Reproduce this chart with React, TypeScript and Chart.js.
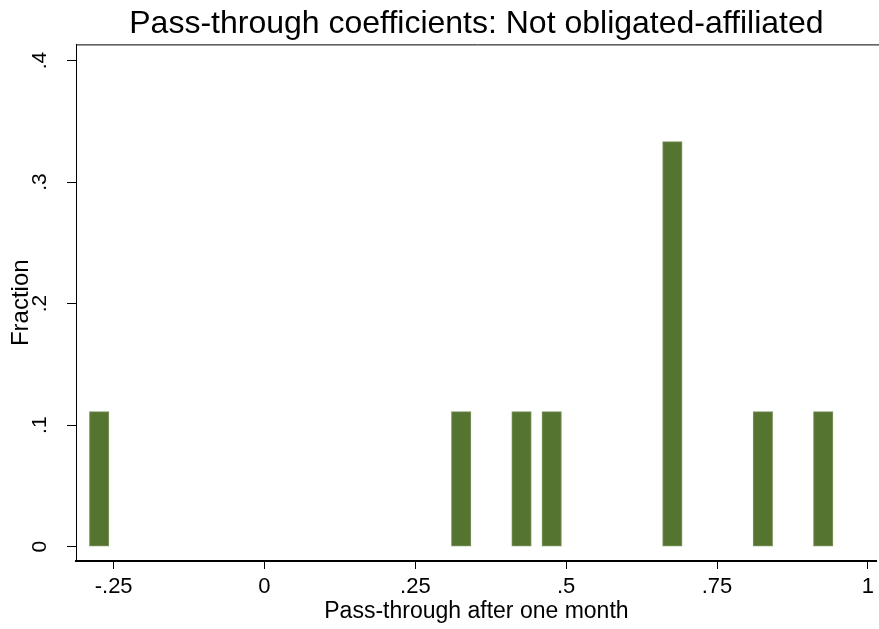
import React, { useEffect, useRef } from "react";
import { Chart, registerables } from "chart.js";

Chart.register(...registerables);

// ---- data ----
const binCenters = [-0.274, 0.326, 0.426, 0.476, 0.676, 0.826, 0.926];
const fractions = [0.1111, 0.1111, 0.1111, 0.1111, 0.3333, 0.1111, 0.1111];
const xTickValues = [-0.25, 0, 0.25, 0.5, 0.75, 1];
const xTickLabels = ["-.25", "0", ".25", ".5", ".75", "1"];
const yTickValues = [0, 0.1, 0.2, 0.3, 0.4];
const yTickLabels = ["0", ".1", ".2", ".3", ".4"];
const titleText = "Pass-through coefficients: Not obligated-affiliated";
const xAxisTitle = "Pass-through after one month";
const yAxisTitle = "Fraction";

const FONT = "'Liberation Sans', Arial, Helvetica, sans-serif";

const topBorder = {
  id: "topBorder",
  afterDraw(chart: any) {
    const { ctx, chartArea } = chart;
    ctx.save();
    ctx.strokeStyle = "#000";
    ctx.lineWidth = 1;
    ctx.beginPath();
    ctx.moveTo(chartArea.left, chartArea.top + 0.5);
    ctx.lineTo(chart.width, chartArea.top + 0.5);
    ctx.stroke();
    ctx.restore();
  },
};

export default function App() {
  const ref = useRef<HTMLCanvasElement | null>(null);

  useEffect(() => {
    if (!ref.current) return;
    const chart = new Chart(ref.current, {
      type: "bar",
      data: {
        datasets: [
          {
            data: binCenters.map((x, i) => ({ x, y: fractions[i] })),
            backgroundColor: "#55742f",
            borderColor: "#7f9463",
            borderWidth: 1,
            borderSkipped: false,
            barThickness: 19.5,
          } as any,
        ],
      },
      options: {
        animation: false,
        responsive: false,
        maintainAspectRatio: false,
        layout: { padding: { left: 0, right: 0, top: 0, bottom: 0 } },
        plugins: {
          legend: { display: false },
          tooltip: { enabled: false },
          title: {
            display: true,
            fullSize: false,
            text: titleText,
            color: "#000",
            font: { family: FONT, size: 32, weight: "normal", lineHeight: 1.2 },
            padding: { top: 5, bottom: 1 },
          },
        },
        scales: {
          x: {
            type: "linear",
            min: -0.3124,
            max: 1.0149,
            offset: false,
            afterBuildTicks: (s: any) => {
              s.ticks = xTickValues.map((v) => ({ value: v }));
            },
            afterFit: (s: any) => {
              s.height = 68;
            },
            ticks: {
              autoSkip: false,
              maxRotation: 0,
              minRotation: 0,
              padding: 5,
              color: "#000",
              font: { family: FONT, size: 22 },
              callback: (v: any) => {
                const i = xTickValues.findIndex((t) => Math.abs(t - Number(v)) < 1e-9);
                return i >= 0 ? xTickLabels[i] : "";
              },
            },
            grid: {
              display: true,
              drawOnChartArea: false,
              drawTicks: true,
              tickLength: 8,
              tickColor: "#000",
              tickWidth: 1,
              offset: false,
            },
            border: { display: true, color: "#000", width: 2 },
            title: {
              display: true,
              text: xAxisTitle,
              color: "#000",
              font: { family: FONT, size: 23, lineHeight: 1.2 },
              padding: { top: 0, bottom: 4 },
            },
          },
          y: {
            type: "linear",
            min: -0.0118,
            max: 0.4133,
            afterBuildTicks: (s: any) => {
              s.ticks = yTickValues.map((v) => ({ value: v }));
            },
            afterFit: (s: any) => {
              s.width = 76;
            },
            ticks: {
              autoSkip: false,
              minRotation: 90,
              maxRotation: 90,
              crossAlign: "center",
              padding: 18,
              color: "#000",
              font: { family: FONT, size: 21 },
              callback: (v: any) => {
                const i = yTickValues.findIndex((t) => Math.abs(t - Number(v)) < 1e-9);
                return i >= 0 ? yTickLabels[i] : "";
              },
            },
            grid: {
              display: true,
              drawOnChartArea: false,
              drawTicks: true,
              tickLength: 9,
              tickColor: "#000",
              tickWidth: 1,
            },
            border: { display: true, color: "#000", width: 1 },
            title: {
              display: true,
              text: yAxisTitle,
              color: "#000",
              font: { family: FONT, size: 24, lineHeight: 1.2 },
              padding: { top: 7, bottom: 0 },
            },
          },
        },
      } as any,
      plugins: [topBorder],
    });
    return () => chart.destroy();
  }, []);

  return (
    <div
      style={{
        position: "fixed",
        left: 0,
        top: 0,
        width: 879,
        height: 629,
        background: "#fff",
      }}
    >
      <canvas ref={ref} width={879} height={629} style={{ display: "block" }} />
    </div>
  );
}
